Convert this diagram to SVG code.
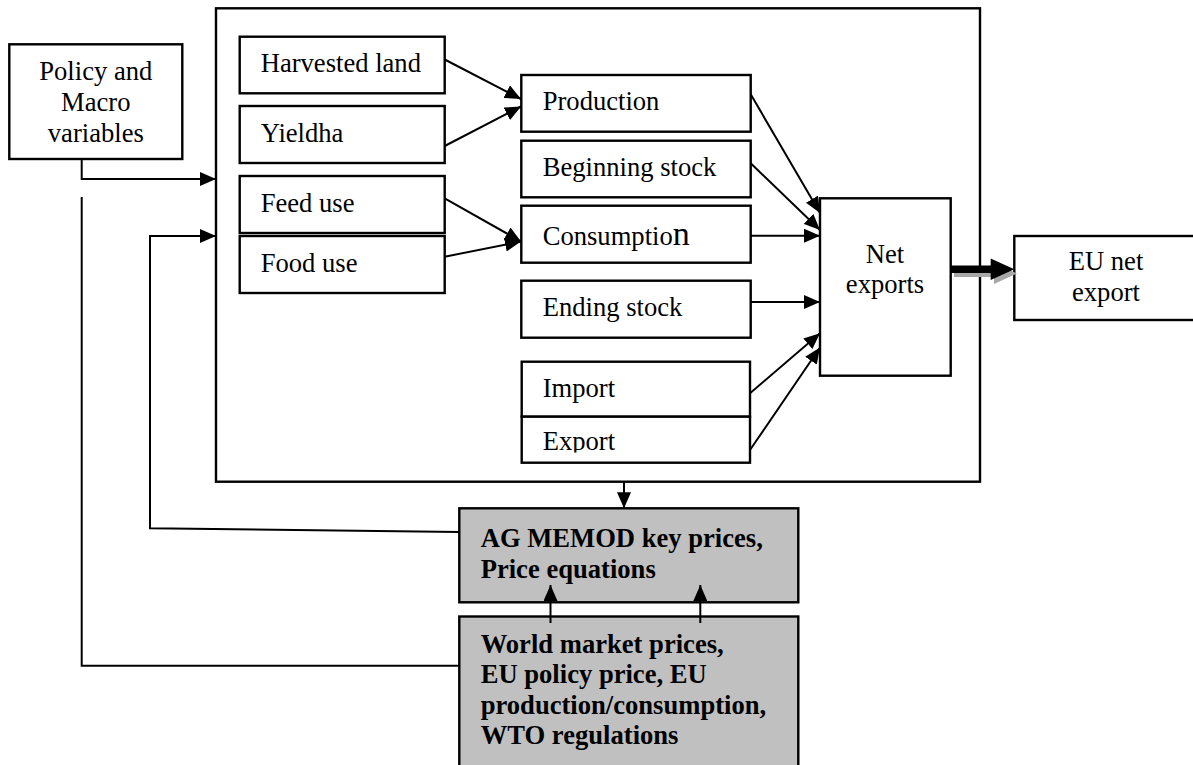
<svg xmlns="http://www.w3.org/2000/svg" width="1193" height="765" viewBox="0 0 1193 765">
<style>
.box{fill:#fff;stroke:#000;stroke-width:2.4}
.gbox{fill:#c0c0c0;stroke:#000;stroke-width:2.4}
.t{font-family:"Liberation Serif","Times New Roman",serif;font-size:26.6px;fill:#000}
.b{font-family:"Liberation Serif","Times New Roman",serif;font-size:26.6px;font-weight:bold;fill:#000}
.c{text-anchor:middle}
.ln{fill:none;stroke:#000;stroke-width:2}
.ar{fill:none;stroke:#000;stroke-width:2;marker-end:url(#ah)}
</style>
<defs>
<marker id="ah" markerUnits="userSpaceOnUse" markerWidth="16" markerHeight="14" refX="16" refY="7" orient="auto">
<path d="M0,0 L16,7 L0,14 z" fill="#000"/>
</marker>
<clipPath id="expclip"><rect x="520" y="416" width="232" height="36.5"/></clipPath>
</defs>
<rect width="1193" height="765" fill="#fff"/>

<g id="outer"><rect class="box" x="216" y="8.3" width="764" height="473.4" fill="none"/></g>

<g id="policy"><rect class="box" x="9.3" y="44.3" width="173" height="114.7"/>
<text class="t c" x="95.8" y="80">Policy and</text>
<text class="t c" x="95.8" y="111">Macro</text>
<text class="t c" x="95.8" y="141.7">variables</text></g>

<g id="harvested"><rect class="box" x="239.7" y="36.7" width="205" height="56.6"/><text class="t" x="260.7" y="71.7">Harvested land</text></g>
<g id="yieldha"><rect class="box" x="239.7" y="106" width="205" height="57"/><text class="t" x="260.7" y="141.7">Yieldha</text></g>
<g id="feed"><rect class="box" x="239.7" y="176" width="205" height="57"/><text class="t" x="260.7" y="211.7">Feed use</text></g>
<g id="food"><rect class="box" x="239.7" y="236" width="205" height="57"/><text class="t" x="260.7" y="271.7">Food use</text></g>

<g id="production"><rect class="box" x="521.3" y="75" width="229.4" height="56.7"/><text class="t" x="542.7" y="110">Production</text></g>
<g id="beginning"><rect class="box" x="521.3" y="140.7" width="229.4" height="56.6"/><text class="t" x="542.7" y="175.7">Beginning stock</text></g>
<g id="consumption"><rect class="box" x="521.3" y="205.7" width="229.4" height="57"/><text class="t" x="542.7" y="245">Consumptio<tspan font-size="34px">n</tspan></text></g>
<g id="ending"><rect class="box" x="521.3" y="280.7" width="229.4" height="57"/><text class="t" x="542.7" y="316">Ending stock</text></g>
<g id="import"><rect class="box" x="521.7" y="361.7" width="228.3" height="55"/><text class="t" x="542.7" y="396.7">Import</text></g>
<g id="export"><rect class="box" x="521.7" y="416.7" width="228.3" height="46"/><text class="t" x="542.7" y="450" clip-path="url(#expclip)">Export</text></g>

<g id="netexports"><rect class="box" x="820" y="198.3" width="130.7" height="177.4"/>
<text class="t c" x="885" y="263">Net</text>
<text class="t c" x="885" y="293">exports</text></g>

<g id="eunet"><rect class="box" x="1014.3" y="236" width="190" height="84"/>
<text class="t c" x="1106" y="270">EU net</text>
<text class="t c" x="1106" y="301">export</text></g>

<g id="agmemod"><rect class="gbox" x="459.3" y="508.3" width="339" height="94"/>
<text class="b" x="480.7" y="547">AG MEMOD key prices,</text>
<text class="b" x="480.7" y="578">Price equations</text></g>

<g id="world"><rect class="gbox" x="459.3" y="616.5" width="339" height="160"/>
<text class="b" x="480.7" y="653">World market prices,</text>
<text class="b" x="480.7" y="683">EU policy price, EU</text>
<text class="b" x="480.7" y="713.5">production/consumption,</text>
<text class="b" x="480.7" y="744">WTO regulations</text></g>

<g id="connectors">
<polyline class="ar" points="81.7,159 81.7,179 216,179"/>
<polyline class="ln" points="81.7,197 81.7,665.7 459.3,665.7"/>
<polyline class="ar" points="459.3,532 150,528.3 150,236 216,236"/>
<line class="ar" x1="444.7" y1="59.5" x2="521" y2="99"/>
<line class="ar" x1="444.7" y1="146" x2="521" y2="106.5"/>
<line class="ar" x1="444.7" y1="198.3" x2="521" y2="241.5"/>
<line class="ar" x1="444.7" y1="256.7" x2="521" y2="241.5"/>
<line class="ar" x1="750.7" y1="94.3" x2="820" y2="213"/>
<line class="ar" x1="750.7" y1="163.3" x2="820" y2="230"/>
<line class="ar" x1="750.7" y1="235.7" x2="820" y2="235.7"/>
<line class="ar" x1="750.7" y1="302" x2="820" y2="302"/>
<line class="ar" x1="750" y1="393.3" x2="820" y2="333.3"/>
<line class="ar" x1="750" y1="450" x2="820" y2="347.5"/>
<line class="ar" x1="624" y1="481.7" x2="624" y2="508.3"/>
<line class="ar" x1="550.5" y1="623" x2="550.5" y2="585"/>
<line class="ar" x1="700.3" y1="623" x2="700.3" y2="585"/>
<g id="thickarrow">
<polygon points="954,272.5 994,272.5 994,263 1017,273.5 994,284 994,277 954,277" fill="#a8a8a8"/>
<rect x="951" y="265.5" width="41" height="7.5" fill="#000"/>
<polygon points="990.7,258.5 1014.3,269.3 990.7,280" fill="#000"/>
</g>
</g>
</svg>
